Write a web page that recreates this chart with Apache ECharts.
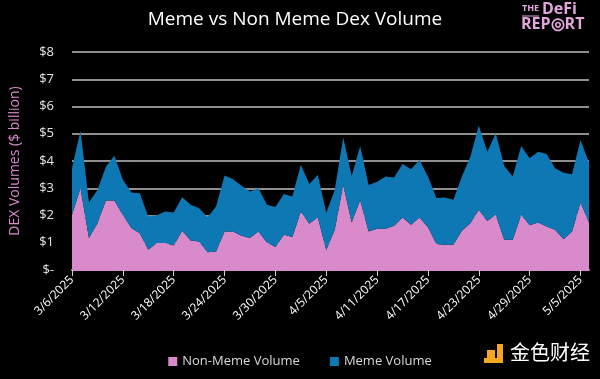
<!DOCTYPE html>
<html><head><meta charset="utf-8">
<script src="https://cdn.jsdelivr.net/npm/echarts@6/dist/echarts.min.js"></script>
<style>html,body{margin:0;padding:0;background:#000;}#c{width:600px;height:379px;}</style>
</head><body><div id="c"></div>
<script>
const categories = ["3/6/2025","3/7/2025","3/8/2025","3/9/2025","3/10/2025","3/11/2025","3/12/2025","3/13/2025","3/14/2025","3/15/2025","3/16/2025","3/17/2025","3/18/2025","3/19/2025","3/20/2025","3/21/2025","3/22/2025","3/23/2025","3/24/2025","3/25/2025","3/26/2025","3/27/2025","3/28/2025","3/29/2025","3/30/2025","3/31/2025","4/1/2025","4/2/2025","4/3/2025","4/4/2025","4/5/2025","4/6/2025","4/7/2025","4/8/2025","4/9/2025","4/10/2025","4/11/2025","4/12/2025","4/13/2025","4/14/2025","4/15/2025","4/16/2025","4/17/2025","4/18/2025","4/19/2025","4/20/2025","4/21/2025","4/22/2025","4/23/2025","4/24/2025","4/25/2025","4/26/2025","4/27/2025","4/28/2025","4/29/2025","4/30/2025","5/1/2025","5/2/2025","5/3/2025","5/4/2025","5/5/2025","5/6/2025"];
const nonMeme = [2.03,3.00,1.17,1.72,2.55,2.55,2.03,1.54,1.35,0.74,0.99,0.99,0.90,1.44,1.08,1.05,0.65,0.68,1.41,1.41,1.26,1.17,1.41,1.01,0.84,1.29,1.21,2.15,1.70,1.94,0.73,1.48,3.12,1.74,2.57,1.41,1.51,1.51,1.62,1.93,1.66,1.93,1.57,0.95,0.93,0.93,1.44,1.72,2.21,1.80,2.03,1.11,1.11,2.03,1.64,1.74,1.60,1.48,1.13,1.41,2.48,1.74];
const meme = [1.70,2.11,1.31,1.22,1.24,1.64,1.28,1.30,1.47,1.22,1.02,1.16,1.21,1.23,1.31,1.22,1.29,1.65,2.06,1.92,1.83,1.71,1.59,1.38,1.47,1.50,1.49,1.71,1.46,1.55,1.37,1.46,1.74,1.71,1.98,1.71,1.73,1.92,1.77,1.96,2.04,2.11,1.86,1.69,1.73,1.65,1.99,2.44,3.09,2.54,2.99,2.71,2.32,2.52,2.46,2.60,2.66,2.25,2.44,2.10,2.29,2.20];
const yTicks = ["$-","$1","$2","$3","$4","$5","$6","$7","$8"];
const labelEvery = 6;

const chart = echarts.init(document.getElementById('c'));
chart.setOption({
  backgroundColor: '#000',
  animation: false,
  title: {
    text: 'Meme vs Non Meme Dex Volume',
    left: 290, top: 5, textAlign: 'center',
    textStyle: {color: '#fff', fontSize: 19, fontWeight: 'normal', fontFamily: 'Open Sans'}
  },
  graphic: [
    {type: 'text', left: 522, top: 4, style: {text: 'THE', fill: '#e3a6dc', font: 'bold 9px Open Sans'}},
    {type: 'line', shape: {x1: 522, y1: 16, x2: 539, y2: 16}, style: {stroke: '#e3a6dc', lineWidth: 1}},
    {type: 'text', left: 542, top: 1, style: {text: 'DeFi', fill: '#e3a6dc', font: 'bold 16px Open Sans'}},
    {type: 'text', left: 521, top: 16, style: {text: 'REP\u25CERT', fill: '#e3a6dc', font: 'bold 16px Open Sans'}},
    {type: 'rect', shape: {x: 487, y: 350, width: 8, height: 8}, style: {fill: '#f5a623'}},
    {type: 'rect', shape: {x: 497, y: 344, width: 6, height: 19}, style: {fill: '#f5a623'}},
    {type: 'rect', shape: {x: 484, y: 358, width: 19, height: 5}, style: {fill: '#f5a623'}},
    {type: 'text', left: 510, top: 342, style: {text: '金色财经', fill: '#fff', font: '20px Noto Sans CJK SC'}}
  ],
  legend: {
    bottom: 6, left: 'center', itemWidth: 9, itemHeight: 9, itemGap: 30,
    icon: 'rect',
    textStyle: {color: '#d9d9d9', fontSize: 13, fontFamily: 'Open Sans'},
    data: ['Non-Meme Volume', 'Meme Volume']
  },
  grid: {left: 70, right: 11, top: 52, bottom: 109},
  xAxis: {
    type: 'category', data: categories, boundaryGap: false,
    axisLine: {lineStyle: {color: '#d98acb', width: 2}},
    axisTick: {show: true, interval: (i) => i % labelEvery === 0, length: 6, lineStyle: {color: '#d0d0d0'}},
    axisLabel: {
      interval: (i) => i % labelEvery === 0, rotate: 45, color: '#fff',
      fontSize: 12, fontFamily: 'Open Sans', margin: 8
    }
  },
  yAxis: {
    type: 'value', min: 0, max: 8, interval: 1,
    name: 'DEX Volumes ($ billion)', nameLocation: 'middle', nameGap: 50,
    nameTextStyle: {color: '#d98acb', fontSize: 14, fontFamily: 'Open Sans'},
    axisLine: {show: false}, axisTick: {show: false},
    axisLabel: {color: '#e6e6e6', fontSize: 13, fontFamily: 'Open Sans', margin: 18,
      formatter: (v) => yTicks[Math.round(v)]},
    splitLine: {lineStyle: {color: '#bfbfbf', width: 1.5}}
  },
  series: [
    {name: 'Non-Meme Volume', type: 'line', stack: 'v', data: nonMeme, symbol: 'none',
      lineStyle: {width: 0}, areaStyle: {color: '#d98acb', opacity: 1}, itemStyle: {color: '#d98acb'}},
    {name: 'Meme Volume', type: 'line', stack: 'v', data: meme, symbol: 'none',
      lineStyle: {width: 0}, areaStyle: {color: '#0e78b4', opacity: 1}, itemStyle: {color: '#0e78b4'}}
  ]
});
</script></body></html>
